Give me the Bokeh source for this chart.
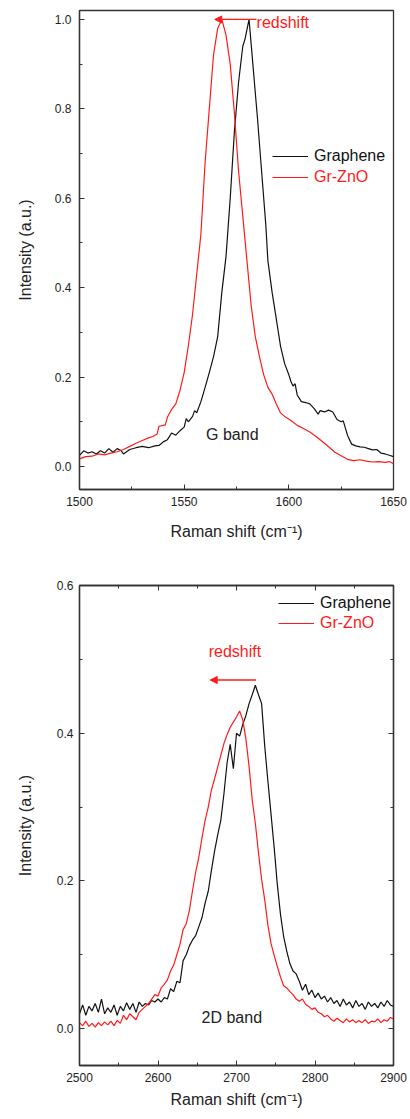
from bokeh.plotting import figure
from bokeh.layouts import column
from bokeh.models import (Range1d, FixedTicker, LinearAxis, Legend, LegendItem,
                          Label, Arrow, NormalHead, PrintfTickFormatter)
from bokeh.embed import file_html
from bokeh.resources import INLINE

# ---------------- data: G band ----------------
g_graphene_x = [1500, 1502, 1504, 1506, 1508, 1510, 1512, 1514, 1516, 1518,
                1520, 1521, 1524, 1527, 1530, 1533, 1536, 1538, 1540, 1542,
                1544, 1546, 1548, 1550, 1551, 1552, 1554, 1555, 1556, 1558,
                1560, 1562, 1564, 1566, 1568, 1570, 1572, 1574, 1576, 1578,
                1579, 1581, 1583, 1585, 1587, 1589, 1590, 1592, 1594, 1596,
                1598, 1600, 1601, 1602, 1603, 1604, 1606, 1608, 1610, 1612,
                1614, 1615, 1617, 1619, 1621, 1623, 1625, 1626, 1628, 1630,
                1632, 1634, 1636, 1638, 1640, 1642, 1644, 1646, 1648, 1650]
g_graphene_y = [.025, .035, .030, .033, .028, .035, .030, .040, .032, .040,
                .035, .028, .038, .042, .045, .042, .046, .047, .055, .060,
                .075, .070, .080, .088, .107, .100, .112, .125, .120, .145,
                .177, .210, .245, .290, .390, .470, .600, .750, .860, .940,
                .955, 1.00, .890, .780, .660, .540, .460, .390, .330, .270,
                .230, .205, .190, .180, .185, .160, .145, .143, .140, .130,
                .117, .125, .122, .126, .122, .105, .100, .102, .070, .050,
                .046, .044, .043, .040, .037, .038, .030, .028, .025, .022]

g_grzno_x = [1500, 1503, 1506, 1509, 1512, 1515, 1518, 1521, 1524, 1527,
             1530, 1533, 1535, 1537, 1538, 1540, 1541, 1542, 1544, 1546,
             1548, 1550, 1552, 1554, 1556, 1558, 1560, 1562, 1564, 1566,
             1568, 1570, 1572, 1574, 1576, 1578, 1580, 1582, 1584, 1586,
             1588, 1590, 1592, 1594, 1596, 1598, 1601, 1604, 1607, 1610,
             1613, 1616, 1619, 1622, 1625, 1628, 1631, 1634, 1637, 1640,
             1643, 1646, 1648, 1650]
g_grzno_y = [.017, .022, .023, .028, .026, .030, .033, .038, .045, .052,
             .058, .064, .067, .072, .090, .092, .093, .110, .128, .140,
             .170, .210, .270, .340, .430, .520, .680, .800, .920, .980,
             1.00, .965, .900, .790, .660, .560, .460, .360, .290, .245,
             .205, .177, .162, .140, .120, .112, .103, .092, .085, .077,
             .067, .056, .044, .032, .024, .016, .013, .015, .012, .010,
             .011, .009, .011, .006]

# ---------------- data: 2D band (x = 2500, 2504, ..., 2900) ----------------
d_x = list(range(2500, 2901, 4))
d_graphene_y = [0.020, 0.032, 0.018, 0.030, 0.024, 0.034, 0.022, 0.040, 0.020, 0.028,
                0.022, 0.032, 0.018, 0.030, 0.024, 0.035, 0.026, 0.034, 0.022, 0.036,
                0.030, 0.034, 0.032, 0.038, 0.036, 0.040, 0.036, 0.042, 0.040, 0.054,
                0.050, 0.064, 0.062, 0.092, 0.100, 0.112, 0.120, 0.126, 0.138, 0.150,
                0.170, 0.186, 0.214, 0.240, 0.262, 0.282, 0.318, 0.360, 0.385, 0.352,
                0.400, 0.396, 0.412, 0.424, 0.440, 0.452, 0.465, 0.452, 0.440, 0.382,
                0.335, 0.290, 0.245, 0.195, 0.155, 0.125, 0.105, 0.088, 0.078, 0.074,
                0.064, 0.052, 0.060, 0.046, 0.052, 0.042, 0.048, 0.040, 0.044, 0.036,
                0.042, 0.034, 0.038, 0.030, 0.040, 0.032, 0.036, 0.028, 0.038, 0.030,
                0.034, 0.026, 0.036, 0.030, 0.034, 0.028, 0.036, 0.030, 0.038, 0.032, 0.030]
d_grzno_y = [0.008, 0.004, 0.010, 0.003, 0.007, 0.002, 0.008, 0.004, 0.009, 0.005,
             0.010, 0.004, 0.011, 0.007, 0.018, 0.012, 0.020, 0.016, 0.012, 0.022,
             0.026, 0.030, 0.034, 0.040, 0.046, 0.044, 0.055, 0.060, 0.066, 0.078,
             0.086, 0.100, 0.114, 0.134, 0.142, 0.160, 0.187, 0.212, 0.232, 0.258,
             0.282, 0.300, 0.323, 0.338, 0.354, 0.370, 0.386, 0.398, 0.408, 0.415,
             0.422, 0.430, 0.418, 0.392, 0.355, 0.310, 0.278, 0.238, 0.202, 0.174,
             0.140, 0.115, 0.099, 0.084, 0.070, 0.058, 0.055, 0.050, 0.046, 0.040,
             0.037, 0.040, 0.033, 0.030, 0.026, 0.028, 0.022, 0.020, 0.016, 0.018,
             0.013, 0.010, 0.014, 0.011, 0.008, 0.013, 0.009, 0.012, 0.008, 0.011,
             0.008, 0.012, 0.007, 0.010, 0.009, 0.013, 0.008, 0.012, 0.010, 0.015, 0.013]

g_xticks = [1500, 1550, 1600, 1650]
g_xminor = [1525, 1575, 1625]
g_yticks = [0.0, 0.2, 0.4, 0.6, 0.8, 1.0]
g_yminor = [0.1, 0.3, 0.5, 0.7, 0.9]
d_xticks = [2500, 2600, 2700, 2800, 2900]
d_xminor = [2550, 2650, 2750, 2850]
d_yticks = [0.0, 0.2, 0.4, 0.6]
d_yminor = [0.1, 0.3, 0.5]

FONT = "Liberation Sans"
RED = "#ff1a1a"
BLACK = "#111111"


def style_axis(ax, standoff, label_standoff):
    ax.major_tick_in = 5
    ax.major_tick_out = 0
    ax.minor_tick_in = 3
    ax.minor_tick_out = 0
    ax.major_label_text_font = FONT
    ax.major_label_text_font_size = "12px"
    ax.major_label_text_color = "#222222"
    ax.major_label_standoff = standoff
    ax.axis_label_text_font = FONT
    ax.axis_label_text_font_size = "16px"
    ax.axis_label_text_font_style = "normal"
    ax.axis_label_text_color = "#222222"
    ax.axis_label_standoff = label_standoff
    ax.axis_line_color = "#333333"
    ax.axis_line_width = 1.3
    ax.major_tick_line_color = "#333333"
    ax.minor_tick_line_color = "#333333"


def make_legend(p, renderer, label, color, loc):
    leg = Legend(items=[LegendItem(label=label, renderers=[renderer])],
                 location=loc, orientation="vertical",
                 glyph_width=36, glyph_height=20, label_height=20,
                 label_standoff=6, padding=0, margin=0, spacing=0,
                 border_line_color=None, background_fill_alpha=0,
                 label_text_font=FONT, label_text_font_size="16px",
                 label_text_color=color)
    p.add_layout(leg, "center")


# ---------------- top figure: G band ----------------
p1 = figure(width=410, height=568, output_backend="svg", toolbar_location=None,
            x_range=Range1d(1500, 1650), y_range=Range1d(-0.0515, 1.02),
            min_border_left=77, min_border_right=17, min_border_top=10,
            min_border_bottom=79)
p1.grid.visible = False
p1.outline_line_color = "#333333"
p1.outline_line_width = 1.3
p1.xaxis.ticker = FixedTicker(ticks=g_xticks, minor_ticks=g_xminor)
p1.yaxis.ticker = FixedTicker(ticks=g_yticks, minor_ticks=g_yminor)
p1.yaxis.formatter = PrintfTickFormatter(format="%.1f")
p1.xaxis.axis_label = "Raman shift (cm\u207b\u00b9)"
p1.yaxis.axis_label = "Intensity (a.u.)"
style_axis(p1.xaxis[0], 7, 14)
style_axis(p1.yaxis[0], 8, 18)

r1 = p1.line(g_graphene_x, g_graphene_y, line_color=BLACK, line_width=1.2)
r2 = p1.line(g_grzno_x, g_grzno_y, line_color=RED, line_width=1.2)
make_legend(p1, r1, "Graphene", BLACK, (193, 323))
make_legend(p1, r2, "Gr-ZnO", RED, (193, 302))

p1.add_layout(Arrow(end=NormalHead(size=7, fill_color=RED, line_color=RED),
                    x_start=1584.5, y_start=1.0, x_end=1564.6, y_end=1.0,
                    line_color=RED, line_width=1.3))
p1.add_layout(Label(x=1584.6, y=0.993, text="redshift", text_font=FONT,
                    text_font_size="16px", text_color=RED,
                    text_align="left", text_baseline="middle"))
p1.add_layout(Label(x=1573, y=0.0716, text="G band", text_font=FONT,
                    text_font_size="16px", text_color="#222222",
                    text_align="center", text_baseline="middle"))

# ---------------- bottom figure: 2D band ----------------
p2 = figure(width=410, height=545, output_backend="svg", toolbar_location=None,
            x_range=Range1d(2500, 2900), y_range=Range1d(-0.05, 0.6),
            min_border_left=79, min_border_right=12, min_border_top=17,
            min_border_bottom=48)
p2.grid.visible = False
p2.outline_line_color = "#111111"
p2.outline_line_width = 1.3
p2.xaxis.ticker = FixedTicker(ticks=d_xticks, minor_ticks=d_xminor)
p2.yaxis.ticker = FixedTicker(ticks=d_yticks, minor_ticks=d_yminor)
p2.yaxis.formatter = PrintfTickFormatter(format="%.1f")
p2.xaxis.axis_label = "Raman shift (cm\u207b\u00b9)"
p2.yaxis.axis_label = "Intensity (a.u.)"
style_axis(p2.xaxis[0], 7, 6)
style_axis(p2.yaxis[0], 6, 20)

top_ax = LinearAxis(ticker=FixedTicker(ticks=d_xticks, minor_ticks=d_xminor))
right_ax = LinearAxis(ticker=FixedTicker(ticks=d_yticks, minor_ticks=d_yminor))
for ax in (top_ax, right_ax):
    style_axis(ax, 0, 0)
    ax.major_label_text_font_size = "0px"
    ax.major_label_text_alpha = 0
p2.add_layout(top_ax, "above")
p2.add_layout(right_ax, "right")

r3 = p2.line(d_x, d_graphene_y, line_color=BLACK, line_width=1.2)
r4 = p2.line(d_x, d_grzno_y, line_color=RED, line_width=1.2)
make_legend(p2, r3, "Graphene", BLACK, (199, 452))
make_legend(p2, r4, "Gr-ZnO", RED, (199, 432))

p2.add_layout(Arrow(end=NormalHead(size=7, fill_color=RED, line_color=RED),
                    x_start=2725, y_start=0.472, x_end=2666.5, y_end=0.472,
                    line_color=RED, line_width=1.3))
p2.add_layout(Label(x=2698, y=0.51, text="redshift", text_font=FONT,
                    text_font_size="16px", text_color=RED,
                    text_align="center", text_baseline="middle"))
p2.add_layout(Label(x=2694, y=0.015, text="2D band", text_font=FONT,
                    text_font_size="16px", text_color="#222222",
                    text_align="center", text_baseline="middle"))

layout = column(p1, p2, spacing=0)
open("out.html", "w").write(file_html(layout, INLINE))
